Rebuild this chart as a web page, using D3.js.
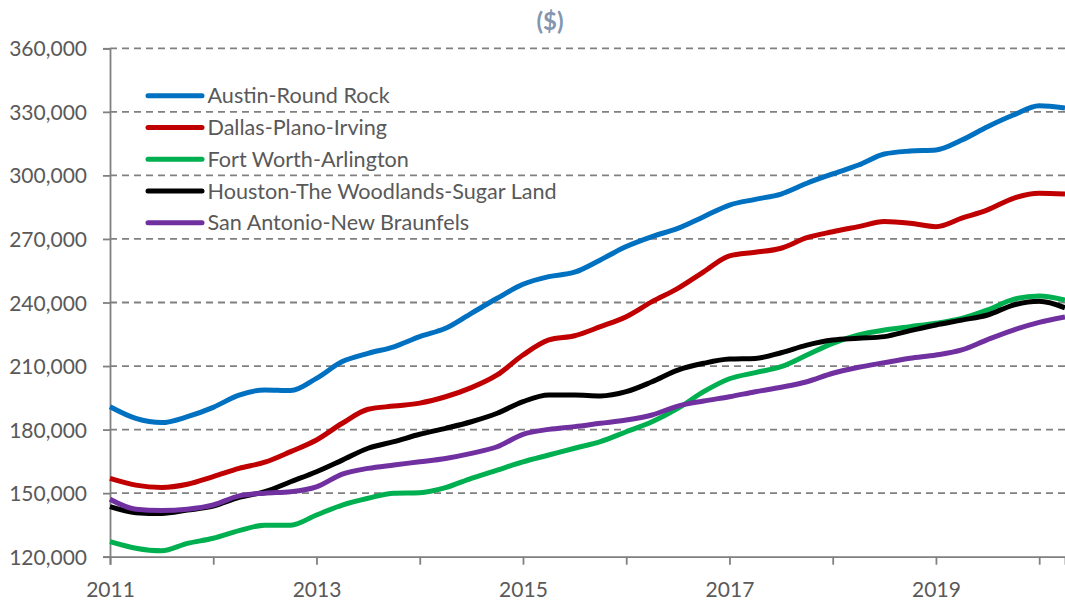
<!DOCTYPE html>
<html>
<head>
<meta charset="utf-8">
<script src="https://cdn.jsdelivr.net/npm/d3@7"></script>
<style>
  html, body { margin: 0; padding: 0; background: #fff; }
  svg { display: block; }
  text { font-family: Lato, "Open Sans", sans-serif; }
</style>
</head>
<body>
<svg id="chart" width="1065" height="603"></svg>
<script>
// ---- data (quarterly readings, Jan 2011 .. Apr 2020) ----
const dates = [
  "2011-01","2011-04","2011-07","2011-10",
  "2012-01","2012-04","2012-07","2012-10",
  "2013-01","2013-04","2013-07","2013-10",
  "2014-01","2014-04","2014-07","2014-10",
  "2015-01","2015-04","2015-07","2015-10",
  "2016-01","2016-04","2016-07","2016-10",
  "2017-01","2017-04","2017-07","2017-10",
  "2018-01","2018-04","2018-07","2018-10",
  "2019-01","2019-04","2019-07","2019-10",
  "2020-01","2020-04"
];
const seriesNames = [
  "Austin-Round Rock",
  "Dallas-Plano-Irving",
  "Fort Worth-Arlington",
  "Houston-The Woodlands-Sugar Land",
  "San Antonio-New Braunfels"
];
const austin = [190800,185300,183300,186100,190500,196300,198700,198400,204200,212100,216000,219100,
  223900,227800,234900,242000,248600,252200,254300,260100,266400,271100,275000,280500,
  286000,288700,291200,296300,300700,304900,310100,311500,312000,316700,323000,328500,332900,331800];
const dallas = [157000,153800,152700,154200,157800,161700,164600,169600,175100,183000,189600,191100,
  192500,195500,199800,205800,215200,222300,224300,228600,233300,240400,246700,254500,
  262000,263700,265600,270600,273400,275800,278200,277400,275800,279800,283700,289200,291600,291200];
const fortWorth = [127100,124000,122800,126300,128700,132300,134900,134900,139700,144400,147600,150000,
  150200,152600,157000,160900,164800,168000,171200,174300,179000,183700,190000,197900,
  204000,206900,209700,215200,220700,224700,227000,228600,230200,232500,236500,241500,243100,241200];
const houston = [143600,140800,140400,142000,143900,148000,150700,155400,160100,165600,171200,174300,
  177800,180600,183700,187700,193200,196300,196300,195900,197900,202600,208100,211300,
  213300,213600,216300,219900,222300,223100,223900,226700,229400,231700,234100,238800,240600,237500];
const sanAntonio = [147100,142400,141800,142400,144400,148700,150000,150700,153000,159000,161700,163300,
  164800,166400,168800,171900,177800,180100,181400,183000,184500,186900,191100,193500,
  195500,197900,200000,202600,206600,209400,211600,213700,215200,217600,222500,227000,230600,233200];
const colors = ["#0070C0","#C00000","#00B050","#000000","#7030A0"];
const yTicks = [120000,150000,180000,210000,240000,270000,300000,330000,360000];
const xTickYears = [2011,2012,2013,2014,2015,2016,2017,2018,2019,2020];
const xLabelYears = [2011,2013,2015,2017,2019];
const titleText = "($)";

// ---- layout ----
const svg = d3.select("#chart");
const mLeft = 110, mRight = 1065, mTop = 48.3, mBottom = 556.7;
const parse = d3.timeParse("%Y-%m");
const toNum = d => { const p = parse(d); return p.getFullYear() + p.getMonth() / 12; };
const xs = dates.map(toNum);

const x = d3.scaleLinear().domain([2011, 2011 + 111 / 12]).range([mLeft, mRight]);
const y = d3.scaleLinear().domain([120000, 360000]).range([mBottom, mTop]);

const gridColor = "#808080";
const textColor = "#595959";

// gridlines
svg.append("g").selectAll("line")
  .data(yTicks.filter(v => v > 120000))
  .join("line")
  .attr("x1", mLeft).attr("x2", mRight)
  .attr("y1", d => y(d)).attr("y2", d => y(d))
  .attr("stroke", gridColor).attr("stroke-width", 1.8)
  .attr("stroke-dasharray", "7,5");

// y axis
const yAxis = d3.axisLeft(y).tickValues(yTicks).tickFormat(d3.format(",")).tickSize(7).tickPadding(16);
const gy = svg.append("g").attr("transform", `translate(${mLeft},0)`).call(yAxis);
gy.select(".domain").attr("stroke", gridColor).attr("stroke-width", 1.8);
gy.selectAll(".tick line").attr("stroke", gridColor).attr("stroke-width", 1.8);
gy.selectAll(".tick text").attr("fill", textColor).style("font-size", "21px")
  .attr("dy", "0.36em");

// x axis
const xAxis = d3.axisBottom(x).tickValues(xTickYears).tickSize(8)
  .tickFormat(d => xLabelYears.includes(d) ? String(d) : "");
const gx = svg.append("g").attr("transform", `translate(0,${mBottom})`).call(xAxis);
gx.select(".domain").attr("stroke", gridColor).attr("stroke-width", 1.8);
gx.selectAll(".tick line").attr("stroke", gridColor).attr("stroke-width", 1.8);
gx.selectAll(".tick text").attr("fill", textColor).style("font-size", "21px")
  .attr("y", 0).attr("dy", 0).attr("transform", "translate(0,40)");

// lines
const allSeries = [austin, dallas, fortWorth, houston, sanAntonio];
const line = d3.line()
  .x((d, i) => x(xs[i]))
  .y(d => y(d))
  .curve(d3.curveMonotoneX);
svg.append("g").selectAll("path")
  .data(allSeries)
  .join("path")
  .attr("d", d => line(d))
  .attr("fill", "none")
  .attr("stroke", (d, i) => colors[i])
  .attr("stroke-width", 5)
  .attr("stroke-linejoin", "round");

// legend
const lg = svg.append("g");
const legY0 = 95.7, legDy = 31.75;
seriesNames.forEach((name, i) => {
  const yy = legY0 + i * legDy;
  lg.append("line").attr("x1", 148).attr("x2", 202).attr("y1", yy).attr("y2", yy)
    .attr("stroke", colors[i]).attr("stroke-width", 5).attr("stroke-linecap", "round");
  lg.append("text").attr("x", 207.5).attr("y", yy).attr("dy", "0.36em")
    .attr("fill", textColor).style("font-size", "21.6px").text(name);
});

// title
svg.append("text").attr("x", 550).attr("y", 30).attr("text-anchor", "middle")
  .attr("fill", "#8496B0").style("font-size", "24px").style("font-weight", "bold")
  .text(titleText);
</script>
</body>
</html>
